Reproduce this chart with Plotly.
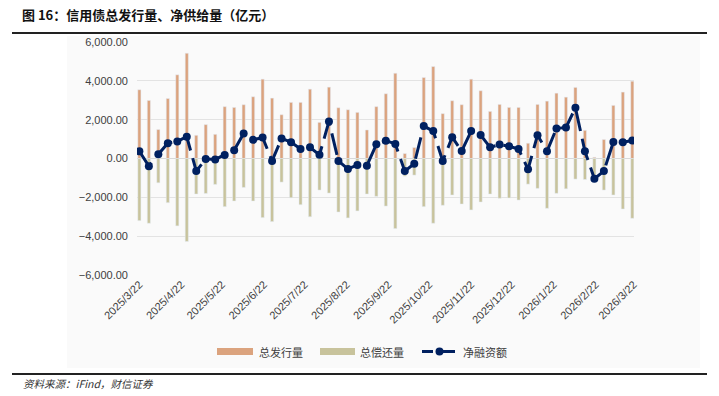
import plotly.graph_objects as go
from datetime import date, datetime, timedelta

# ---- data ----
start = date(2025, 3, 22)
weeks = [start + timedelta(days=7 * i) for i in range(53)]
tick_labels = ["2025/3/22", "2025/4/22", "2025/5/22", "2025/6/22", "2025/7/22",
               "2025/8/22", "2025/9/22", "2025/10/22", "2025/11/22", "2025/12/22",
               "2026/1/22", "2026/2/22", "2026/3/22"]

issue = [3540, 2990, 1490, 3090, 4310, 5420, 1195, 1745, 1245, 2670, 2630, 2770, 3180,
         4085, 3110, 2255, 2890, 2890, 3570, 1860, 3675, 2615, 2510, 2375, 1470, 2670,
         3335, 4390, 255, 565, 4170, 4735, 2310, 2975, 2770, 4085, 3490, 2425, 2785,
         2630, 2630, 785, 2785, 2955, 3365, 3160, 3660, 1450, 60, 975, 2735, 3420, 3980]
repay = [-3200, -3335, -1250, -2275, -3470, -4275, -1830, -1800, -1335, -2480, -2190,
         -1490, -2190, -3045, -3250, -1215, -2020, -2380, -3000, -1625, -1780, -2755,
         -3060, -2700, -1830, -1950, -2450, -3610, -910, -855, -2480, -3335, -2410,
         -1880, -2345, -2650, -2240, -1830, -2050, -2035, -2140, -1320, -1540, -2565,
         -1795, -1560, -1060, -1080, -1100, -1625, -1880, -2600, -3080]
net = [375, -395, 220, 790, 880, 1120, -650, -20, -50, 175, 430, 1290, 960, 1080, -125,
       1030, 840, 490, 580, 190, 1905, -125, -540, -330, -370, 730, 920, 750, -650, -265,
       1670, 1410, -130, 1100, 380, 1410, 1210, 575, 720, 630, 485, -555, 1200, 370, 1550,
       1595, 2610, 375, -1040, -650, 850, 840, 930]

names = ["总发行量", "总偿还量", "净融资额"]
C_ISSUE = "#DBA37E"
C_REPAY = "#C8C39C"
C_NET = "#002060"

tick_dates = [datetime.strptime(s, "%Y/%m/%d") for s in tick_labels]
x_range = [datetime(2025, 3, 20, 6), datetime(2026, 3, 22, 6)]
BAR_W = 2.3 * 86400000  # ms

# ---- layout geometry ----
W, H = 719, 396
ML, MR, MT, MB = 137, 85, 42, 121
PW = W - ML - MR
PH = H - MT - MB


def px(v):
    return (v - ML) / PW


def py(v):
    return (H - MB - v) / PH


fig = go.Figure()
fig.add_trace(go.Bar(x=weeks, y=issue, name=names[0], marker_color=C_ISSUE, width=BAR_W,
                     showlegend=False))
fig.add_trace(go.Bar(x=weeks, y=repay, name=names[1], marker_color=C_REPAY, width=BAR_W,
                     showlegend=False))
fig.add_trace(go.Scatter(x=weeks, y=net, name=names[2], mode="lines+markers",
                         line=dict(color=C_NET, width=3, dash="22px,8px"),
                         marker=dict(color=C_NET, size=8), showlegend=False))

FONT = "Noto Sans CJK SC"
shapes = [
    # light chart-area background
    dict(type="rect", xref="paper", yref="paper", x0=px(67), x1=px(700), y0=py(368), y1=py(36),
         fillcolor="#FAFAFA", line=dict(width=0), layer="below"),
    # title rule
    dict(type="line", xref="paper", yref="paper", x0=px(12), x1=px(707), y0=py(33), y1=py(33),
         line=dict(color="#222222", width=2)),
    # footer rule
    dict(type="line", xref="paper", yref="paper", x0=px(12), x1=px(707), y0=py(374), y1=py(374),
         line=dict(color="#222222", width=2)),
    # legend swatches
    dict(type="rect", xref="paper", yref="paper", x0=px(217), x1=px(253), y0=py(355), y1=py(348),
         fillcolor=C_ISSUE, line=dict(width=0)),
    dict(type="rect", xref="paper", yref="paper", x0=px(320), x1=px(355), y0=py(355), y1=py(348),
         fillcolor=C_REPAY, line=dict(width=0)),
    dict(type="line", xref="paper", yref="paper", x0=px(422), x1=px(433), y0=py(351.5), y1=py(351.5),
         line=dict(color=C_NET, width=3)),
    dict(type="line", xref="paper", yref="paper", x0=px(442), x1=px(455), y0=py(351.5), y1=py(351.5),
         line=dict(color=C_NET, width=3)),
    dict(type="circle", xref="paper", yref="paper", x0=px(435.5), x1=px(443.5), y0=py(355.5), y1=py(347.5),
         fillcolor=C_NET, line=dict(width=0)),
]

annotations = [
    dict(text="<b>图 16：信用债总发行量、净供给量（亿元）</b>", xref="paper", yref="paper",
         x=px(20), y=py(14), xanchor="left", yanchor="middle", showarrow=False,
         font=dict(family=FONT, size=13, color="#111111")),
    dict(text="<i>资料来源：iFind，财信证券</i>", xref="paper", yref="paper",
         x=px(21), y=py(383), xanchor="left", yanchor="middle", showarrow=False,
         font=dict(family=FONT, size=10.5, color="#333333")),
    dict(text=names[0], xref="paper", yref="paper", x=px(257), y=py(351.5), xanchor="left",
         yanchor="middle", showarrow=False, font=dict(family=FONT, size=11, color="#404040")),
    dict(text=names[1], xref="paper", yref="paper", x=px(358), y=py(351.5), xanchor="left",
         yanchor="middle", showarrow=False, font=dict(family=FONT, size=11, color="#404040")),
    dict(text=names[2], xref="paper", yref="paper", x=px(461), y=py(351.5), xanchor="left",
         yanchor="middle", showarrow=False, font=dict(family=FONT, size=11, color="#404040")),
]

fig.update_layout(
    width=W, height=H,
    margin=dict(l=ML, r=MR, t=MT, b=MB, pad=0, autoexpand=False),
    paper_bgcolor="white", plot_bgcolor="rgba(0,0,0,0)",
    barmode="overlay",
    shapes=shapes, annotations=annotations,
    font=dict(family="Liberation Sans", size=11, color="#404040"),
)
fig.update_xaxes(type="date", range=x_range, tickmode="array", tickvals=tick_dates,
                 ticktext=tick_labels, tickangle=-45, showgrid=False, zeroline=False,
                 showline=False, ticks="", automargin=False,
                 tickfont=dict(family="Liberation Sans", size=11, color="#404040"))
fig.update_yaxes(range=[-6000, 6000], dtick=2000, tickformat=",.2f", showgrid=True,
                 gridcolor="#E3E3E3", gridwidth=1, zeroline=True, zerolinecolor="#D9D9D9",
                 zerolinewidth=1, ticks="", ticklabelstandoff=8, automargin=False,
                 tickfont=dict(family="Liberation Sans", size=11, color="#404040"))

fig.write_html("out.html", config={"displayModeBar": False},
               post_script="document.body.style.margin='0';document.body.style.padding='0';")
